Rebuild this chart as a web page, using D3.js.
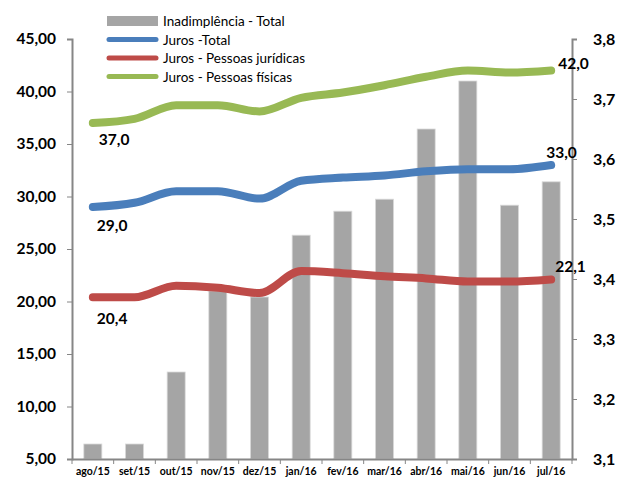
<!DOCTYPE html>
<html>
<head>
<meta charset="utf-8">
<script src="https://cdn.jsdelivr.net/npm/d3@7"></script>
<style>
  body { margin: 0; background: #fff; }
  svg text { font-family: Lato, "Open Sans", sans-serif; }
</style>
</head>
<body>
<svg id="chart" width="617" height="477"></svg>
<script>
const months = ["ago/15","set/15","out/15","nov/15","dez/15","jan/16","fev/16","mar/16","abr/16","mai/16","jun/16","jul/16"];
const inadimplencia = [3.125, 3.125, 3.245, 3.38, 3.37, 3.473, 3.513, 3.533, 3.65, 3.73, 3.523, 3.562];
const jurosTotal = [29.0, 29.4, 30.5, 30.5, 29.8, 31.5, 31.8, 32.0, 32.4, 32.6, 32.6, 33.0];
const jurosPJ = [20.4, 20.4, 21.5, 21.3, 20.8, 22.9, 22.7, 22.4, 22.2, 21.9, 21.9, 22.1];
const jurosPF = [37.0, 37.4, 38.7, 38.7, 38.1, 39.4, 39.9, 40.6, 41.4, 42.0, 41.8, 42.0];
const leftTicks = [5, 10, 15, 20, 25, 30, 35, 40, 45];
const rightTicks = [3.1, 3.2, 3.3, 3.4, 3.5, 3.6, 3.7, 3.8];

const svg = d3.select("#chart");
const mLeft = 72, mRight = 572, mTop = 39, mBottom = 459;
const axisColor = "#868686";

const x = d3.scaleBand().domain(months).range([mLeft, mRight]);
const yL = d3.scaleLinear().domain([5, 45]).range([mBottom, mTop]);
const yR = d3.scaleLinear().domain([3.1, 3.8]).range([mBottom, mTop]);

// bars (right axis)
svg.append("g").selectAll("rect")
  .data(inadimplencia)
  .enter().append("rect")
  .attr("x", (d, i) => x(months[i]) + x.bandwidth() / 2 - 9)
  .attr("width", 18)
  .attr("y", d => yR(d))
  .attr("height", d => mBottom - yR(d))
  .attr("fill", "#a5a5a5")
  .attr("stroke", "#d9d9d9")
  .attr("stroke-width", 0.8);

// axes
const gL = svg.append("g").attr("transform", `translate(${mLeft},0)`)
  .call(d3.axisLeft(yL).tickValues(leftTicks).tickSize(5).tickFormat(d => d3.format(".2f")(d).replace(".", ",")));
gL.select(".domain").attr("stroke", axisColor).attr("stroke-width", 2);
gL.selectAll(".tick line").attr("stroke", axisColor);
gL.selectAll(".tick text").attr("x", -16).attr("font-size", 15.5).attr("font-weight", "bold").attr("fill", "#000");

const gR = svg.append("g").attr("transform", `translate(${mRight},0)`)
  .call(d3.axisRight(yR).tickValues(rightTicks).tickSize(5).tickFormat(d => d3.format(".1f")(d).replace(".", ",")));
gR.select(".domain").attr("stroke", axisColor).attr("stroke-width", 2);
gR.selectAll(".tick line").attr("stroke", axisColor);
gR.selectAll(".tick text").attr("x", 21).attr("font-size", 16).attr("font-weight", "bold").attr("fill", "#000");

const gX = svg.append("g").attr("transform", `translate(0,${mBottom})`)
  .call(d3.axisBottom(x).tickSize(0));
gX.select(".domain").attr("stroke", axisColor).attr("stroke-width", 2);
gX.selectAll(".tick text").attr("y", 9).attr("font-size", 10.5).attr("font-weight", "bold").attr("fill", "#000");
gX.selectAll(".sep")
  .data(months.concat(["end"]))
  .enter().append("line")
  .attr("x1", (d, i) => mLeft + i * x.bandwidth())
  .attr("x2", (d, i) => mLeft + i * x.bandwidth())
  .attr("y1", 0).attr("y2", 5)
  .attr("stroke", axisColor);

// lines (left axis)
const line = d3.line()
  .x((d, i) => x(months[i]) + x.bandwidth() / 2)
  .y(d => yL(d))
  .curve(d3.curveMonotoneX);

const series = [
  { values: jurosPF, color: "#98b954" },
  { values: jurosTotal, color: "#4a7ebb" },
  { values: jurosPJ, color: "#be4b48" }
];
series.forEach(s => {
  svg.append("path")
    .attr("d", line(s.values))
    .attr("fill", "none")
    .attr("stroke", s.color)
    .attr("stroke-width", 8)
    .attr("stroke-linecap", "round")
    .attr("stroke-linejoin", "round");
});

// data labels
const fmt1 = d => d3.format(".1f")(d).replace(".", ",");
const labels = [
  { v: jurosPF[0], i: 0, dx: 6, dy: 22 },
  { v: jurosTotal[0], i: 0, dx: 4, dy: 24 },
  { v: jurosPJ[0], i: 0, dx: 4, dy: 27 },
  { v: jurosPF[11], i: 11, dx: 7, dy: -2 },
  { v: jurosTotal[11], i: 11, dx: -5, dy: -7 },
  { v: jurosPJ[11], i: 11, dx: 4, dy: -7 }
];
svg.append("g").selectAll("text")
  .data(labels)
  .enter().append("text")
  .attr("x", d => x(months[d.i]) + x.bandwidth() / 2 + d.dx)
  .attr("y", d => yL(d.v) + d.dy)
  .attr("font-size", 15.5)
  .attr("font-weight", "bold")
  .attr("fill", "#000")
  .text(d => fmt1(d.v));

// legend
const legend = [
  { name: "Inadimplência - Total", color: "#a5a5a5", bar: true },
  { name: "Juros -Total", color: "#4a7ebb" },
  { name: "Juros - Pessoas jurídicas", color: "#be4b48" },
  { name: "Juros - Pessoas físicas", color: "#98b954" }
];
const lg = svg.append("g");
legend.forEach((d, i) => {
  const cy = 21 + i * 18.5;
  if (d.bar) {
    lg.append("rect").attr("x", 107).attr("y", cy - 5).attr("width", 51).attr("height", 10).attr("fill", d.color);
  } else {
    lg.append("line").attr("x1", 109).attr("x2", 156).attr("y1", cy).attr("y2", cy)
      .attr("stroke", d.color).attr("stroke-width", 5).attr("stroke-linecap", "round");
  }
  lg.append("text").attr("x", 163).attr("y", cy + 5).attr("font-size", 13.5).attr("fill", "#000").text(d.name);
});
</script>
</body>
</html>
